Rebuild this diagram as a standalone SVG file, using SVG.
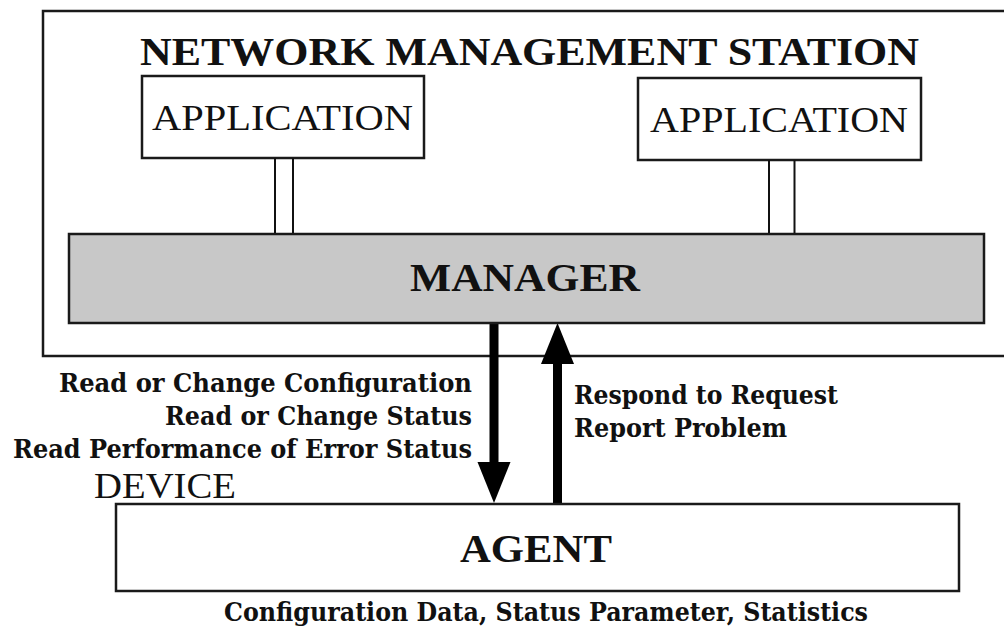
<svg xmlns="http://www.w3.org/2000/svg" width="1004" height="632" viewBox="0 0 1004 632">
  <style>
    .box { fill: #ffffff; stroke: #1a1a1a; stroke-width: 2.5; }
    .mgr { fill: #c8c8c8; stroke: #1a1a1a; stroke-width: 2.5; }
    .title { font-family: "Liberation Serif", "Times New Roman", serif; font-weight: bold; fill: #111; }
    .reg { font-family: "Liberation Serif", "Times New Roman", serif; fill: #111; }
    .lbl { font-family: "DejaVu Serif", "Liberation Serif", serif; font-weight: bold; font-size: 26px; fill: #111; }
    .link { stroke: #111; stroke-width: 2; }
    .arrow { stroke: #000; stroke-width: 9; fill: none; }
  </style>
  <defs>
    <marker id="head" markerUnits="userSpaceOnUse" markerWidth="42" markerHeight="34" refX="0" refY="16.5" orient="auto" viewBox="0 0 42 34">
      <path d="M0,0 L41,16.5 L0,33 z" fill="#000"/>
    </marker>
  </defs>

  <g id="station">
    <rect class="box" x="43" y="11" width="975" height="345" stroke-width="2.5"/>
    <text class="title" x="529.5" y="65" font-size="39" text-anchor="middle" textLength="779" lengthAdjust="spacingAndGlyphs">NETWORK MANAGEMENT STATION</text>
  </g>

  <g id="application-left">
    <rect class="box" x="142" y="76" width="282" height="82"/>
    <text class="reg" x="282.5" y="130" font-size="35" text-anchor="middle" textLength="261" lengthAdjust="spacingAndGlyphs">APPLICATION</text>
  </g>

  <g id="application-right">
    <rect class="box" x="638" y="78" width="283" height="82"/>
    <text class="reg" x="779" y="132" font-size="35" text-anchor="middle" textLength="258" lengthAdjust="spacingAndGlyphs">APPLICATION</text>
  </g>

  <g id="connectors">
    <line class="link" x1="275" y1="158" x2="275" y2="234"/>
    <line class="link" x1="293" y1="158" x2="293" y2="234"/>
    <line class="link" x1="769" y1="160" x2="769" y2="234"/>
    <line class="link" x1="794.5" y1="160" x2="794.5" y2="234"/>
    <line class="arrow" x1="494" y1="319" x2="494" y2="462" marker-end="url(#head)"/>
    <line class="arrow" x1="557.5" y1="504" x2="557.5" y2="364" marker-end="url(#head)"/>
  </g>

  <g id="manager">
    <rect class="mgr" x="69" y="234" width="915" height="89"/>
    <text class="title" x="525" y="291" font-size="39" text-anchor="middle" textLength="230" lengthAdjust="spacingAndGlyphs">MANAGER</text>
  </g>

  <g id="request-labels">
    <text class="lbl" x="472" y="392" text-anchor="end" textLength="413" lengthAdjust="spacingAndGlyphs">Read or Change Configuration</text>
    <text class="lbl" x="472" y="425" text-anchor="end" textLength="307" lengthAdjust="spacingAndGlyphs">Read or Change Status</text>
    <text class="lbl" x="472" y="458" text-anchor="end" textLength="459" lengthAdjust="spacingAndGlyphs">Read Performance of Error Status</text>
  </g>

  <g id="response-labels">
    <text class="lbl" x="574" y="404" textLength="264" lengthAdjust="spacingAndGlyphs">Respond to Request</text>
    <text class="lbl" x="574" y="437" textLength="213" lengthAdjust="spacingAndGlyphs">Report Problem</text>
  </g>

  <g id="device">
    <text class="reg" x="94" y="498" font-size="35" textLength="142" lengthAdjust="spacingAndGlyphs">DEVICE</text>
  </g>

  <g id="agent">
    <rect class="box" x="116" y="504" width="843" height="87" stroke-width="3"/>
    <text class="title" x="536" y="562" font-size="40" text-anchor="middle" textLength="152" lengthAdjust="spacingAndGlyphs">AGENT</text>
  </g>

  <g id="agent-data">
    <text class="lbl" x="546" y="621" font-size="27" text-anchor="middle" textLength="644" lengthAdjust="spacingAndGlyphs">Configuration Data, Status Parameter, Statistics</text>
  </g>
</svg>
